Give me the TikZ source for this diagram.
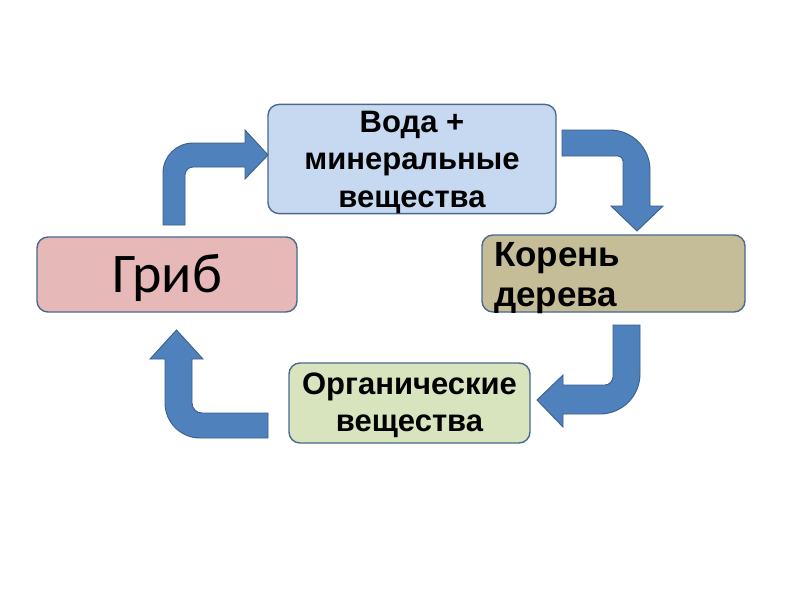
\documentclass[tikz,border=0pt]{standalone}
\usepackage{fontspec}
\setmainfont{Liberation Sans}
\newfontfamily\calfont{Carlito}
\definecolor{boxline}{HTML}{4A6890}
\definecolor{bluefill}{HTML}{C6D9F1}
\definecolor{redfill}{HTML}{E6B9B8}
\definecolor{tanfill}{HTML}{C4BD97}
\definecolor{greenfill}{HTML}{D7E4BD}
\definecolor{arrowfill}{HTML}{4F81BD}
\definecolor{arrowline}{HTML}{3A5F8B}
\begin{document}
\begin{tikzpicture}[x=1pt,y=-1pt,
  box/.style={draw=boxline,line width=1.4pt,rounded corners=11pt,inner sep=0pt,
    font=\bfseries\fontsize{31}{37.5}\selectfont,align=center},
  blockarrow/.style={fill=arrowfill,draw=arrowline,line width=0.9pt,line join=miter}]
\useasboundingbox (0,0) rectangle (800,600);
\fill[white] (0,0) rectangle (800,600);
% boxes
\node[box,fill=bluefill,minimum width=288pt,minimum height=106pt] (voda) at (412,159)
  {\rule{0pt}{28pt}Вода +\\минеральные\\вещества};
\node[box,fill=redfill,minimum width=260pt,minimum height=75pt,
  text height=36pt,text depth=0pt,
  font=\calfont\fontsize{56}{60}\selectfont] (grib) at (167,274.5) {Гриб};
\node[box,fill=tanfill,minimum width=263pt,minimum height=77pt] (koren) at (613.5,273.5) {};
\node[anchor=north west,inner sep=0pt,align=left,
  font=\bfseries\fontsize{35}{40.5}\selectfont] (korentext) at (494,242) {Корень\\дерева};
\node[box,fill=greenfill,minimum width=241pt,minimum height=80pt] (organ) at (409.5,403)
  {\rule{0pt}{26pt}Органические\\вещества};
% arrow grib -> voda
\draw[blockarrow] (163,225) -- (163,173) .. controls (163,156.4) and (176.4,143) .. (193,143)
  -- (245,143) -- (245,130) -- (268,155) -- (245,179) -- (245,167) -- (193,167)
  .. controls (188.6,167) and (185,170.6) .. (185,175) -- (185,225) -- cycle;
% arrow voda -> koren
\draw[blockarrow] (562,130) -- (610,130) .. controls (632.1,130) and (650,147.9) .. (650,170)
  -- (650,206) -- (663,206) -- (637,231) -- (611,206) -- (623,206) -- (623,161)
  .. controls (623,158.2) and (620.8,156) .. (618,156) -- (562,156) -- cycle;
% arrow koren -> organ
\draw[blockarrow] (613,325) -- (640,325) -- (640,374) .. controls (640,396.1) and (622.1,414) .. (600,414)
  -- (563,414) -- (563,427) -- (537,400) -- (563,375) -- (563,385) -- (605,385)
  .. controls (609.4,385) and (613,380.6) .. (613,377) -- cycle;
% arrow organ -> grib
\draw[blockarrow] (268,413) -- (268,438) -- (200,438) .. controls (180.7,438) and (165,422.3) .. (165,403)
  -- (165,359) -- (150,359) -- (176.5,330) -- (203,359) -- (192,359) -- (192,403)
  .. controls (192,408.5) and (196.5,413) .. (202,413) -- cycle;
\end{tikzpicture}
\end{document}
